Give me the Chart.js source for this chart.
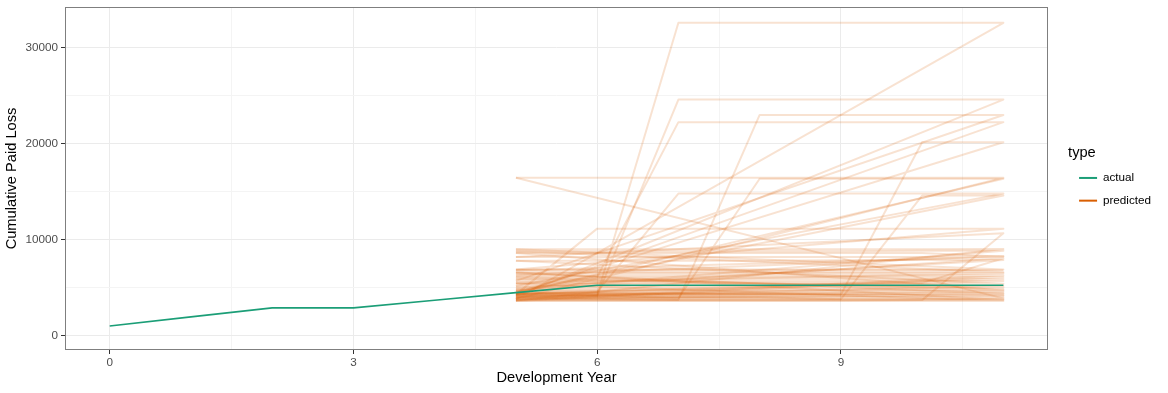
<!DOCTYPE html>
<html>
<head>
<meta charset="utf-8">
<script src="https://cdn.jsdelivr.net/npm/chart.js@4"></script>
<style>
  html, body { margin: 0; padding: 0; background: #fff; }
  #wrap { width: 1168px; height: 393px; position: relative; }
</style>
</head>
<body>
<div id="wrap"><canvas id="chart"></canvas></div>
<script>
// actual development (years 0..11)
var years = [0, 1, 2, 3, 4, 5, 6, 7, 8, 9, 10, 11];
var actualLoss = [1000, 1950, 2890, 2890, 3680, 4480, 5250, 5250, 5250, 5250, 5250, 5250];

// predicted paths, years 5..11 (one row per simulation, drawn as one path)
var predictedYears = [5, 6, 7, 8, 9, 10, 11];
var predictedPaths = [
  [3850, 3850, 3850, 3850, 3850, 3850, 3880],
  [16460, 16460, 16460, 16460, 16460, 16460, 16460],
  [3850, 3900, 4000, 4000, 4000, 4000, 4000],
  [4100, 4230, 32600, 32600, 32600, 32600, 32600],
  [3800, 3800, 3800, 3800, 3800, 3800, 3800],
  [4000, 4130, 24600, 24600, 24600, 24600, 24600],
  [4130, 4130, 4130, 4150, 4150, 4150, 4150],
  [4500, 6100, 22250, 22250, 22250, 22250, 22250],
  [4240, 4240, 4240, 4240, 4240, 4240, 4240],
  [3900, 3850, 3720, 23000, 23000, 23000, 23000],
  [5700, 5700, 5700, 5700, 5700, 5700, 5700],
  [4300, 4300, 4300, 4300, 4290, 20150, 20150],
  [4450, 4450, 4450, 4450, 4450, 4450, 4450],
  [4200, 4200, 3900, 16350, 16350, 16350, 16350],
  [4400, 4550, 14800, 14800, 14800, 14800, 14800],
  [5180, 5180, 5180, 5180, 5180, 5180, 5180],
  [4000, 4000, 4000, 4000, 3800, 14600, 14600],
  [4600, 4600, 4600, 4600, 4600, 4600, 4600],
  [4300, 11150, 11150, 11150, 11150, 11150, 11150],
  [6900, 6900, 6900, 6900, 6900, 6900, 6900],
  [9000, 9000, 9000, 9000, 9000, 9000, 9030],
  [3650, 3650, 3650, 3650, 3650, 3700, 10670],
  [8200, 8200, 8200, 8200, 8200, 8200, 8300],
  [6300, 6300, 6300, 6300, 6300, 6300, 6300],
  [3700, 3700, 3700, 3700, 3700, 3700, 3700],
  [6600, 6600, 6600, 6600, 6600, 6600, 6600],
  [8800, 8800, 8800, 8800, 8800, 8850, 8850],
  [4800, 4800, 4800, 4800, 4800, 4800, 4800],
  [6100, 6100, 6100, 6100, 6100, 6100, 6100],
  [3600, 3600, 3600, 3600, 3600, 3600, 3600],
  [5400, 5400, 5400, 5400, 5400, 5400, 5400],
  [7800, 7800, 7800, 7800, 7850, 7890, 7890],
  [5000, 5000, 5000, 5000, 5000, 5000, 5000],
  [5900, 5900, 5900, 5900, 5900, 5900, 5900],
  [4350, 4350, 4350, 4350, 4350, 4350, 4350],
  [6500, 6500, 6500, 6500, 6500, 6500, 6500],
  [5500, 5500, 5500, 5500, 5500, 5500, 8060],
  [4700, 4700, 4700, 4700, 4700, 4700, 4700],
  [8600, 8600, 8600, 8600, 8600, 8600, 8230],
  [6800, 6800, 6800, 6800, 6800, 6800, 6800]
];

// axis ticks (major ones get labels, the rest are minor grid lines)
var xTicks = [0, 1.5, 3, 4.5, 6, 7.5, 9, 10.5];
var xLabels = [0, 3, 6, 9];
var yTicks = [0, 5000, 10000, 15000, 20000, 25000, 30000];
var yLabels = [0, 10000, 20000, 30000];

var actualColor = "#1B9E77";
var predColor = "#D95F02";
var fontFamily = "'Liberation Sans', Arial, sans-serif";

var datasets = [{
  label: "actual",
  data: years.map(function (x, i) { return { x: x, y: actualLoss[i] }; }),
  borderColor: actualColor,
  borderWidth: 1.6
}];

predictedPaths.forEach(function (path, i) {
  var pts = path.map(function (v, j) { return { x: predictedYears[j], y: v }; });
  var next = predictedPaths[i + 1];
  if (next) pts.push({ x: predictedYears[0], y: next[0] });
  datasets.push({
    label: "predicted",
    data: pts,
    borderColor: "rgba(217, 95, 2, 0.18)",
    borderWidth: 2
  });
});

function isMajor(list, v) { return list.indexOf(v) > -1; }

// panel border on all four sides
var panelBorder = {
  id: "panelBorder",
  afterDraw: function (chart) {
    var a = chart.chartArea, c = chart.ctx;
    c.save();
    c.strokeStyle = "#7f7f7f";
    c.lineWidth = 1;
    c.strokeRect(Math.round(a.left) + 0.5, Math.round(a.top) + 0.5,
      Math.round(a.right - a.left) - 1, Math.round(a.bottom - a.top) - 1);
    c.restore();
  }
};

new Chart(document.getElementById("chart"), {
  type: "line",
  data: { datasets: datasets },
  options: {
    responsive: true,
    maintainAspectRatio: false,
    animation: false,
    events: [],
    elements: {
      line: { tension: 0, borderCapStyle: "butt", borderJoinStyle: "round" },
      point: { radius: 0 }
    },
    layout: { padding: { top: 7, right: 7, bottom: 0, left: 0 } },
    scales: {
      x: {
        type: "linear",
        min: -0.55,
        max: 11.55,
        afterBuildTicks: function (s) { s.ticks = xTicks.map(function (v) { return { value: v }; }); },
        afterFit: function (s) { s.height = 43; s.paddingLeft = 0; s.paddingRight = 0; },
        border: { display: false },
        grid: {
          color: function (c) { return isMajor(xLabels, c.tick.value) ? "#EBEBEB" : "#F4F4F4"; },
          lineWidth: 1,
          tickLength: 4,
          tickWidth: 1,
          tickColor: function (c) { return isMajor(xLabels, c.tick.value) ? "#333333" : "rgba(0,0,0,0)"; }
        },
        ticks: {
          autoSkip: false,
          maxRotation: 0,
          padding: 2,
          color: "#4D4D4D",
          font: { family: fontFamily, size: 11.7 },
          callback: function (v) { return isMajor(xLabels, v) ? String(v) : ""; }
        },
        title: {
          display: true,
          text: "Development Year",
          color: "#000",
          font: { family: fontFamily, size: 14.67 },
          padding: { top: 0, bottom: 6 }
        }
      },
      y: {
        type: "linear",
        min: -1500,
        max: 34250,
        afterBuildTicks: function (s) { s.ticks = yTicks.map(function (v) { return { value: v }; }); },
        afterFit: function (s) { s.width = 65; s.paddingTop = 0; s.paddingBottom = 0; },
        border: { display: false },
        grid: {
          color: function (c) { return isMajor(yLabels, c.tick.value) ? "#EBEBEB" : "#F4F4F4"; },
          lineWidth: 1,
          tickLength: 4,
          tickWidth: 1,
          tickColor: function (c) { return isMajor(yLabels, c.tick.value) ? "#333333" : "rgba(0,0,0,0)"; }
        },
        ticks: {
          autoSkip: false,
          padding: 3,
          color: "#4D4D4D",
          font: { family: fontFamily, size: 11.7 },
          callback: function (v) { return isMajor(yLabels, v) ? String(v) : ""; }
        },
        title: {
          display: true,
          text: "Cumulative Paid Loss",
          color: "#000",
          font: { family: fontFamily, size: 14.67 },
          padding: { top: 3.5, bottom: 0 }
        }
      },
      gap: {
        type: "linear",
        position: "right",
        display: true,
        afterFit: function (s) { s.width = 20; s.paddingTop = 0; s.paddingBottom = 0; },
        border: { display: false },
        grid: { drawOnChartArea: false, drawTicks: false },
        ticks: { display: false }
      }
    },
    plugins: {
      tooltip: { enabled: false },
      legend: {
        position: "right",
        align: "center",
        fullSize: false,
        title: {
          display: true,
          text: "type",
          position: "start",
          color: "#000",
          font: { family: fontFamily, size: 14.67 },
          padding: { top: 6, bottom: -2 }
        },
        labels: {
          usePointStyle: true,
          pointStyleWidth: 18,
          padding: 11,
          color: "#000",
          font: { family: fontFamily, size: 11.7 },
          generateLabels: function () {
            return [
              { text: "actual", strokeStyle: actualColor, fillStyle: actualColor, lineWidth: 2, pointStyle: "line", hidden: false, datasetIndex: 0 },
              { text: "predicted", strokeStyle: predColor, fillStyle: predColor, lineWidth: 2, pointStyle: "line", hidden: false, datasetIndex: 1 }
            ];
          }
        }
      }
    }
  },
  plugins: [panelBorder]
});
</script>
</body>
</html>
